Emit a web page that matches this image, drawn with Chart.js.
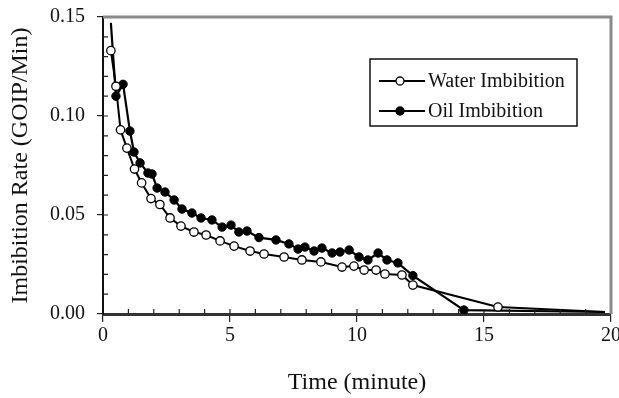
<!DOCTYPE html>
<html>
<head>
<meta charset="utf-8">
<script src="https://cdn.jsdelivr.net/npm/chart.js@4.4.0/dist/chart.umd.min.js"></script>
<style>
  html, body { margin: 0; padding: 0; background: #fff; }
</style>
</head>
<body>
<canvas id="chart" width="619" height="398"></canvas>
<script>
// values (time in minutes, rate in GOIP/min)
const waterTime = [0.31, 0.51, 0.69, 0.94, 1.24, 1.52, 1.89, 2.24, 2.64, 3.07, 3.58, 4.06, 4.61, 5.16, 5.79, 6.34, 7.13, 7.83, 8.58, 9.41, 9.88, 10.28, 10.75, 11.10, 11.77, 12.20, 15.55, 19.76];
const waterRate = [0.133, 0.115, 0.093, 0.0838, 0.0732, 0.0662, 0.0583, 0.0553, 0.0485, 0.0444, 0.0414, 0.0399, 0.0369, 0.0343, 0.0318, 0.0303, 0.0288, 0.0273, 0.0263, 0.0237, 0.0242, 0.0222, 0.0222, 0.0202, 0.0197, 0.0146, 0.0035, 0.001];

const oilTime = [0.31, 0.51, 0.79, 1.06, 1.22, 1.46, 1.77, 1.93, 2.13, 2.44, 2.80, 3.11, 3.50, 3.86, 4.29, 4.69, 5.04, 5.35, 5.67, 6.14, 6.81, 7.32, 7.68, 7.95, 8.31, 8.62, 9.02, 9.33, 9.69, 10.08, 10.43, 10.83, 11.18, 11.61, 12.20, 14.21, 19.76];
const oilRate = [0.147, 0.110, 0.116, 0.0924, 0.0818, 0.0763, 0.0712, 0.0707, 0.0636, 0.0616, 0.0576, 0.0530, 0.0510, 0.0485, 0.0475, 0.0439, 0.0449, 0.0414, 0.0419, 0.0386, 0.0374, 0.0354, 0.0328, 0.0338, 0.0318, 0.0333, 0.0308, 0.0313, 0.0323, 0.0288, 0.0273, 0.0308, 0.0273, 0.0258, 0.0194, 0.002, 0.001];

const seriesLabels = ["Water Imbibition", "Oil Imbibition"];
const xTicks = [0, 5, 10, 15, 20];
const yTicks = [0, 0.05, 0.10, 0.15];

const serif = "'Liberation Serif', 'DejaVu Serif', serif";

const toPoints = (xs, ys) => xs.map((x, i) => ({ x: x, y: ys[i] }));

// no marker where the curve starts at the top or runs into the right axis
const markerSize = (ctx) => {
  const p = ctx.raw;
  if (!p) return 4;
  if (p.x > 19) return 0;
  if (ctx.datasetIndex === 1 && ctx.dataIndex === 0) return 0;
  return 4.2;
};

// inner ticks (minor + major), gray top/right frame
const frame = {
  id: "frame",
  afterDraw(chart) {
    const c = chart.ctx;
    const a = chart.chartArea;
    const xs = chart.scales.x;
    const ys = chart.scales.y;
    c.save();
    c.strokeStyle = "#8a8a8a";
    c.lineWidth = 3;
    c.beginPath();
    c.moveTo(a.left, a.top);
    c.lineTo(a.right, a.top);
    c.lineTo(a.right, a.bottom);
    c.stroke();

    c.strokeStyle = "#222";
    c.lineWidth = 1.2;
    c.beginPath();
    for (let v = 1; v < 20; v++) {
      const px = xs.getPixelForValue(v);
      c.moveTo(px, a.bottom);
      c.lineTo(px, a.bottom - 5);
    }
    for (let k = 1; k < 15; k++) {
      const py = ys.getPixelForValue(k / 100);
      c.moveTo(a.left, py);
      c.lineTo(a.left + 5, py);
    }
    c.stroke();
    c.restore();
  }
};

// legend box inside the plot
const boxLegend = {
  id: "boxLegend",
  afterDraw(chart) {
    const c = chart.ctx;
    const left = 370, top = 59, w = 207, h = 67;
    c.save();
    c.fillStyle = "#fff";
    c.fillRect(left, top, w, h);
    c.strokeStyle = "#111";
    c.lineWidth = 1.5;
    c.strokeRect(left, top, w, h);
    const rows = [81, 111];
    chart.data.datasets.forEach((ds, i) => {
      const y = rows[i];
      c.strokeStyle = "#000";
      c.lineWidth = 2.2;
      c.beginPath();
      c.moveTo(379, y);
      c.lineTo(425, y);
      c.stroke();
      c.beginPath();
      c.arc(400, y, 4, 0, Math.PI * 2);
      c.fillStyle = ds.pointBackgroundColor;
      c.fill();
      c.lineWidth = 1.3;
      c.stroke();
      c.fillStyle = "#111";
      c.font = "20px " + serif;
      c.textBaseline = "middle";
      c.fillText(ds.label, 428, y + 1);
    });
    c.restore();
  }
};

new Chart(document.getElementById("chart"), {
  type: "line",
  data: {
    datasets: [
      {
        label: seriesLabels[0],
        data: toPoints(waterTime, waterRate),
        borderColor: "#000",
        borderWidth: 2,
        pointBackgroundColor: "#fff",
        pointBorderColor: "#000",
        pointBorderWidth: 1.3,
        pointRadius: markerSize,
        tension: 0
      },
      {
        label: seriesLabels[1],
        data: toPoints(oilTime, oilRate),
        borderColor: "#000",
        borderWidth: 2.2,
        pointBackgroundColor: "#000",
        pointBorderColor: "#000",
        pointBorderWidth: 1,
        pointRadius: markerSize,
        tension: 0
      }
    ]
  },
  options: {
    responsive: false,
    animation: false,
    layout: { padding: { top: 17, right: 8, left: 0, bottom: 0 } },
    plugins: {
      legend: { display: false },
      tooltip: { enabled: false }
    },
    scales: {
      x: {
        type: "linear",
        min: 0,
        max: 20,
        afterFit: (s) => { s.height = 84; s.paddingLeft = 0; s.paddingRight = 0; },
        afterBuildTicks: (s) => { s.ticks = xTicks.map((v) => ({ value: v })); },
        ticks: {
          color: "#111",
          font: { family: serif, size: 20 },
          padding: 2,
          maxRotation: 0,
          callback: (v) => String(v)
        },
        grid: { drawOnChartArea: false, tickLength: 8, color: "#222", lineWidth: 1.2 },
        border: { color: "#333", width: 3 },
        title: {
          display: true,
          text: "Time (minute)",
          color: "#111",
          font: { family: serif, size: 24 },
          padding: { top: 0, bottom: 1 }
        }
      },
      y: {
        min: 0,
        max: 0.15,
        afterFit: (s) => { s.width = 103; s.paddingTop = 0; s.paddingBottom = 0; },
        afterBuildTicks: (s) => { s.ticks = yTicks.map((v) => ({ value: v })); },
        ticks: {
          color: "#111",
          font: { family: serif, size: 20 },
          padding: 12,
          callback: (v) => v.toFixed(2)
        },
        grid: { drawOnChartArea: false, tickLength: 6, color: "#222", lineWidth: 1.2 },
        border: { color: "#111", width: 2 },
        title: {
          display: true,
          text: "Imbibition Rate (GOIP/Min)",
          color: "#111",
          font: { family: serif, size: 24 },
          padding: { top: 6, bottom: 0 }
        }
      }
    }
  },
  plugins: [frame, boxLegend]
});
</script>
</body>
</html>
